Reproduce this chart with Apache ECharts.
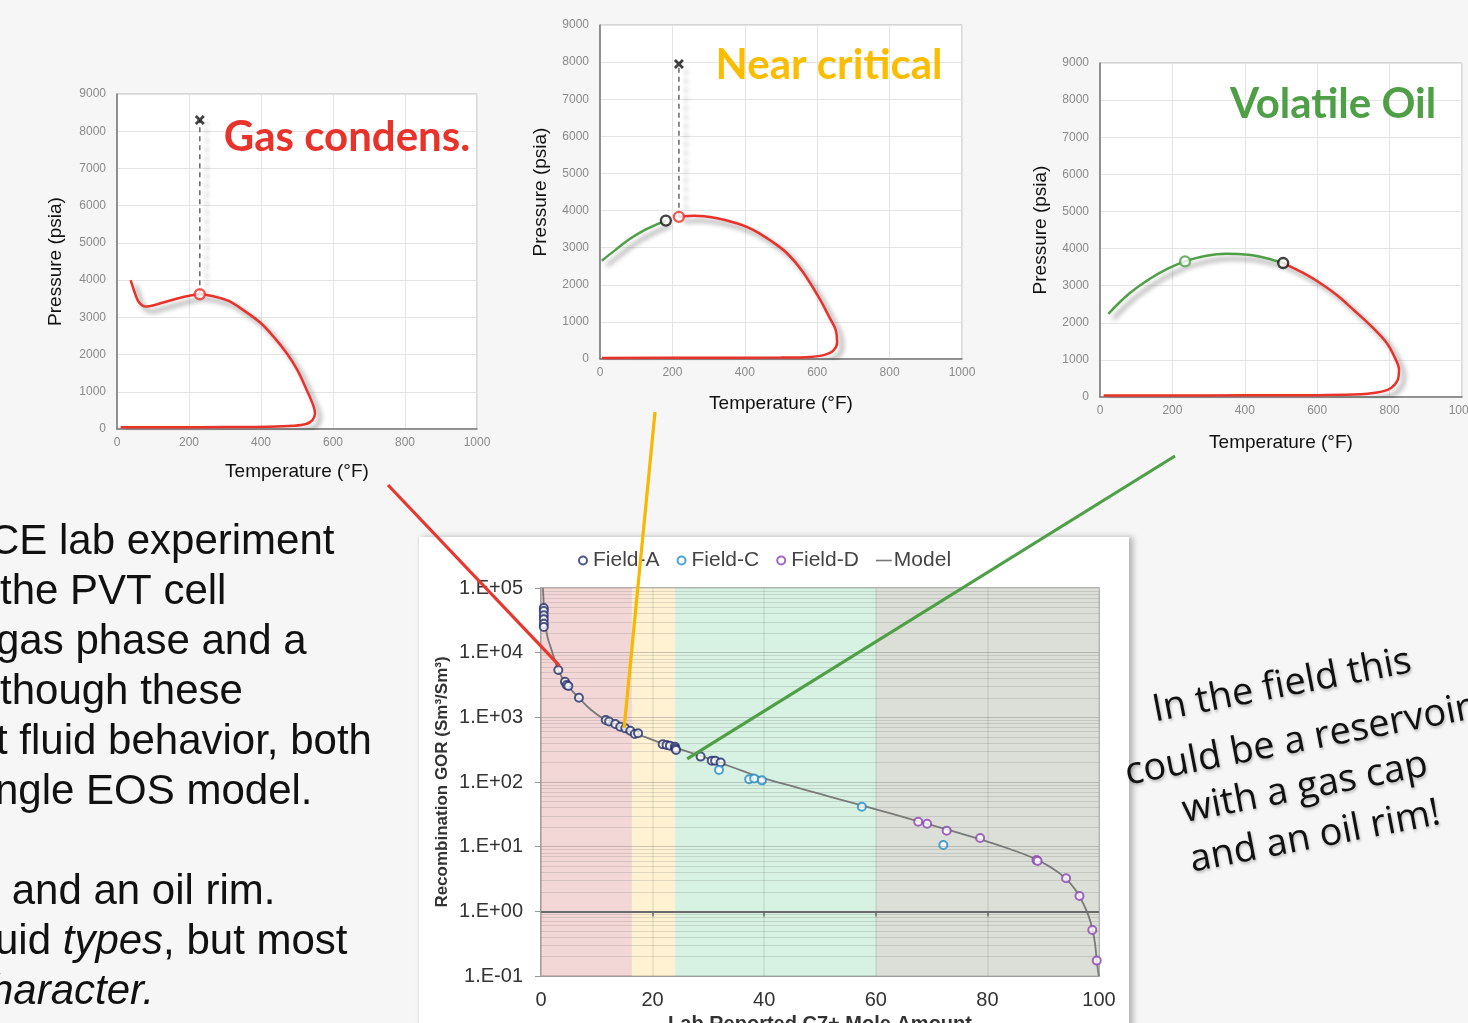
<!DOCTYPE html>
<html>
<head>
<meta charset="utf-8">
<script src="https://cdn.jsdelivr.net/npm/echarts@6/dist/echarts.min.js"></script>
<style>
  html, body { margin: 0; padding: 0; background: #f6f6f6; width: 1468px; height: 1023px; overflow: hidden; }
  #panel { position: absolute; left: 418px; top: 537px; width: 710px; height: 520px; background: #fff;
           border-left: 1px solid #e2e2e2; box-shadow: 4px 0 6px rgba(0,0,0,0.28); }
  #chart { position: absolute; left: 0; top: 0; width: 1468px; height: 1023px; }
</style>
</head>
<body>
<div id="panel"></div>
<div id="chart"></div>
<script>
// ---------- Phase envelopes: [temperature °F, pressure psia] ----------
// Gas condensate
const gcDewCurve = [[38,4000],[48,3700],[58,3450],[70,3320],[82,3290],[100,3320],[150,3460],[190,3560],[230,3620],
  [270,3560],[310,3440],[350,3200],[400,2840],[440,2420],[471,2040],[500,1600],[527,1050],[545,640],[550,420],
  [543,240],[525,135],[490,88],[420,62],[300,52],[150,47],[10,45]];
const gcSatPoint = [230, 3620];
const gcInitial = [230, 8300];

// Near-critical fluid
const ncBubbleCurve = [[5,2650],[40,2920],[80,3220],[120,3460],[160,3640],[182,3730]];
const ncDewCurve = [[218,3830],[260,3860],[320,3800],[380,3650],[423,3480],[470,3200],[516,2856],[560,2350],
  [608,1600],[635,1100],[651,790],[655,450],[645,230],[620,110],[580,55],[500,38],[300,32],[5,30]];
const ncCritical = [182, 3730];
const ncSatPoint = [218, 3830];
const ncInitial = [218, 7950];

// Volatile oil
const voBubbleCurve = [[23,2240],[80,2780],[140,3200],[190,3470],[235,3654],[290,3800],[350,3860],[410,3830],[460,3740],[506,3610]];
const voDewCurve = [[506,3610],[560,3350],[608,3072],[655,2740],[700,2350],[750,1900],[792,1455],[815,1050],
  [826,736],[822,450],[805,250],[781,151],[740,90],[700,65],[600,50],[400,45],[200,40],[10,40]];
const voSatPoint = [235, 3654];
const voCritical = [506, 3610];

// ---------- Recombination GOR vs C7+ mole amount: [C7+ %, GOR Sm3/Sm3] ----------
const fieldA = [[0.5,49000],[0.5,44000],[0.5,38000],[0.5,33000],[0.5,28000],[0.5,25000],[3.1,5400],[4.3,3560],
  [4.6,3160],[4.9,3050],[6.8,2010],[11.6,910],[12.2,860],[13.3,790],[14.2,716],[15.1,675],[16.0,621],[16.8,553],
  [17.4,566],[21.8,383],[22.5,374],[23.1,365],[24.0,352],[24.1,330],[24.2,313],[28.6,247],[30.6,214],[31.2,214],[32.2,200]];
const fieldC = [[31.9,153],[37.3,110],[38.2,113],[39.6,106],[57.5,41.5],[72.1,10.6]];
const fieldD = [[67.6,24.3],[69.2,22.6],[72.7,17.7],[78.7,13.6],[88.8,6.2],[89.0,6.0],[94.1,3.24],[96.5,1.73],[98.8,0.515],[99.6,0.173]];
const modelC7 = [0.35,0.6,0.85,1.2,1.7,2.4,3.1,4.5,6.8,9,11.6,14,16,17.7,20,22,24,28,32,36,40,45,50,55,60,65,70,75,80,84,88,91,94,96,97.5,98.5,99.2,99.6,99.95];
const modelGor = [100000,41000,25000,17000,12400,8000,5400,3300,2000,1300,910,720,600,533,447,390,343,263,200,150,113.5,86,65.3,49.8,37.8,28.7,21.6,16.2,12.0,9.2,6.8,5.0,3.24,2.0,1.15,0.68,0.355,0.174,0.1];

// Fluid-type regions along the C7+ axis
const regionNames = ['Gas condensate', 'Near critical', 'Volatile oil', 'Black oil'];
const regionBounds = [0, 16.3, 24, 60, 100];
const regionColors = ['rgba(236,190,190,0.62)', 'rgba(253,236,190,0.68)', 'rgba(196,236,212,0.68)', 'rgba(210,214,204,0.78)'];

// Where each envelope panel points on the GOR chart
const linkGasCondensate = [3.3, 6300];
const linkNearCritical = [14.9, 690];
const linkVolatileOil = [26.2, 227];

const FONT = '"Liberation Sans", Arial, sans-serif';
const RED = '#e8322a', GREEN = '#4f9f47', GOLD = '#fbbd00';
const curveShadow = { shadowColor: 'rgba(0,0,0,0.45)', shadowBlur: 5, shadowOffsetX: 5, shadowOffsetY: 5 };
const dashShadow = { shadowColor: 'rgba(0,0,0,0.35)', shadowBlur: 4, shadowOffsetX: 7, shadowOffsetY: 2 };
const crossSymbol = 'path://M2,0 L5,3 L8,0 L10,2 L7,5 L10,8 L8,10 L5,7 L2,10 L0,8 L3,5 L0,2 Z';
const plainNumber = v => String(v);

function tempAxis(i, gap) {
  return {
    gridIndex: i, type: 'value', min: 0, max: 1000, interval: 200,
    name: 'Temperature (°F)', nameLocation: 'middle', nameGap: gap,
    nameTextStyle: { fontSize: 19, color: '#111', fontFamily: FONT },
    axisLine: { show: true, lineStyle: { color: '#777', width: 1.5 } },
    axisTick: { show: false },
    axisLabel: { fontSize: 12, color: '#8a8a8a', margin: 8, fontFamily: FONT, formatter: plainNumber },
    splitLine: { show: true, lineStyle: { color: '#e4e4e4' } }
  };
}
function presAxis(i, gap) {
  return {
    gridIndex: i, type: 'value', min: 0, max: 9000, interval: 1000,
    name: 'Pressure (psia)', nameLocation: 'middle', nameGap: gap, nameRotate: 90,
    nameTextStyle: { fontSize: 19, color: '#111', fontFamily: FONT },
    axisLine: { show: true, lineStyle: { color: '#777', width: 1.5 } },
    axisTick: { show: false },
    axisLabel: { fontSize: 12, color: '#8a8a8a', margin: 11, fontFamily: FONT, formatter: plainNumber },
    splitLine: { show: true, lineStyle: { color: '#e4e4e4' } }
  };
}
function curve(i, data, color) {
  return { type: 'line', xAxisIndex: i, yAxisIndex: i, data: data, smooth: 0.35, symbol: 'none', silent: true, z: 3,
           lineStyle: Object.assign({ color: color, width: 2.5 }, curveShadow) };
}
function dashed(i, a, b) {
  return { type: 'line', xAxisIndex: i, yAxisIndex: i, data: [a, b], symbol: 'none', silent: true, z: 2,
           lineStyle: Object.assign({ color: '#666', width: 1.5, type: [5, 4] }, dashShadow) };
}
function ring(i, p, color) {
  return { type: 'scatter', xAxisIndex: i, yAxisIndex: i, data: [p], symbol: 'circle', symbolSize: 10, silent: true, z: 5,
           itemStyle: { color: '#fff', borderColor: color, borderWidth: 2.4 } };
}
function cross(i, p) {
  return { type: 'scatter', xAxisIndex: i, yAxisIndex: i, data: [p], symbol: crossSymbol, symbolSize: 10, silent: true, z: 5,
           itemStyle: { color: '#111' } };
}
function plotGrid(left, top, width, height, bg, border) {
  return { left: left, top: top, width: width, height: height, show: true, backgroundColor: bg,
           borderColor: border, borderWidth: border === '#999' ? 1.5 : 1, containLabel: false, outerBoundsMode: 'none' };
}

// GOR-chart gridlines (log decades and their 2..9 subdivisions)
const decades = [1e-1, 1, 10, 100, 1000, 10000, 100000];
const minorLevels = [];
for (let d = 0; d < decades.length - 1; d++) for (let k = 2; k <= 9; k++) minorLevels.push(+(k * decades[d]).toPrecision(3));

const lineNone = { symbol: ['none', 'none'], silent: true, label: { show: false } };

function gorLabel(v) {
  const e = Math.round(Math.log10(v));
  return '1.E' + (e < 0 ? '-' : '+') + String(Math.abs(e)).padStart(2, '0');
}

const option = {
  animation: false,
  textStyle: { fontFamily: FONT },
  grid: [
    plotGrid(117, 94, 360, 335, '#fff', '#b4b4b4'),
    plotGrid(600, 25, 362, 334, '#fff', '#b4b4b4'),
    plotGrid(1100, 63, 362, 334, '#fff', '#b4b4b4'),
    plotGrid(541, 588, 558, 388, 'transparent', '#999')
  ],
  xAxis: [
    tempAxis(0, 33), tempAxis(1, 35), tempAxis(2, 36),
    {
      gridIndex: 3, type: 'value', min: 0, max: 100, interval: 20,
      name: 'Lab Reported C7+ Mole Amount', nameLocation: 'middle', nameGap: 38,
      nameTextStyle: { fontSize: 20, fontWeight: 'bold', color: '#333', fontFamily: FONT },
      axisLine: { show: true, lineStyle: { color: '#999', width: 1.5 } },
      axisTick: { show: false },
      axisLabel: { fontSize: 20, color: '#333', margin: 14, fontFamily: FONT },
      splitLine: { show: false }
    }
  ],
  yAxis: [
    presAxis(0, 52), presAxis(1, 50), presAxis(2, 50),
    {
      gridIndex: 3, type: 'log', logBase: 10, min: 0.1, max: 100000, splitNumber: 6,
      name: 'Recombination GOR (Sm³/Sm³)', nameLocation: 'middle', nameGap: 90, nameRotate: 90,
      nameTextStyle: { fontSize: 17, fontWeight: 'bold', color: '#333', fontFamily: FONT },
      axisLine: { show: true, lineStyle: { color: '#999', width: 1.5 } },
      axisTick: { show: true, length: 6, lineStyle: { color: '#999' } },
      axisLabel: { formatter: gorLabel, fontSize: 20, color: '#333', margin: 18, fontFamily: FONT },
      splitLine: { show: false }
    }
  ],
  legend: {
    data: ['Field-A', 'Field-C', 'Field-D',
           { name: 'Model', icon: 'path://M0,0 L16,0 L16,1.6 L0,1.6 Z' }],
    left: 573, top: 545, itemWidth: 16, itemHeight: 8, itemGap: 17,
    textStyle: { fontSize: 21, color: '#444', fontFamily: FONT, padding: [0, 0, 0, -3] }
  },
  series: [
    // Gas condensate envelope
    curve(0, gcDewCurve, RED), dashed(0, gcSatPoint, gcInitial), ring(0, gcSatPoint, RED), cross(0, gcInitial),
    // Near-critical envelope
    curve(1, ncBubbleCurve, GREEN), curve(1, ncDewCurve, RED), dashed(1, ncSatPoint, ncInitial),
    ring(1, ncCritical, '#111'), ring(1, ncSatPoint, RED), cross(1, ncInitial),
    // Volatile oil envelope
    curve(2, voBubbleCurve, GREEN), curve(2, voDewCurve, RED), ring(2, voSatPoint, GREEN), ring(2, voCritical, '#111'),
    // GOR chart: fluid-type bands
    {
      type: 'line', name: 'regions', xAxisIndex: 3, yAxisIndex: 3, data: [], silent: true, z: 1,
      markArea: {
        silent: true,
        data: regionNames.map((n, i) => [
          { name: n, xAxis: regionBounds[i], itemStyle: { color: regionColors[i] } },
          { xAxis: regionBounds[i + 1] }
        ]),
        label: { show: false }
      }
    },
    // GOR chart: gridlines, unit-GOR axis line and its ticks
    {
      type: 'line', name: 'grid', xAxisIndex: 3, yAxisIndex: 3, data: [], silent: true, z: 2,
      markLine: Object.assign({}, lineNone, {
        data: [].concat(
          minorLevels.map(v => ({ yAxis: v, lineStyle: { color: 'rgba(110,110,110,0.22)', width: 1, type: 'solid' } })),
          [10, 100, 1000, 10000].map(v => ({ yAxis: v, lineStyle: { color: 'rgba(110,110,110,0.35)', width: 1, type: 'solid' } })),
          [20, 40, 60, 80].map(v => ({ xAxis: v, lineStyle: { color: 'rgba(90,110,90,0.16)', width: 1.5, type: 'solid' } })),
          [{ yAxis: 1, lineStyle: { color: '#6a6a6a', width: 2, type: 'solid' } }],
          [20, 40, 60, 80].map(v => [{ coord: [v, 1], lineStyle: { color: '#6a6a6a', width: 1.5, type: 'solid' } }, { coord: [v, 0.83] }])
        )
      })
    },
    {
      type: 'line', name: 'Model', xAxisIndex: 3, yAxisIndex: 3, z: 3, silent: true,
      data: modelC7.map((c, i) => [c, modelGor[i]]),
      smooth: 0.5, symbol: 'none',
      itemStyle: { color: '#777' },
      lineStyle: { color: '#7a7a7a', width: 1.8 }
    },
    {
      type: 'scatter', name: 'Field-A', xAxisIndex: 3, yAxisIndex: 3, z: 4, data: fieldA,
      symbol: 'emptyCircle', symbolSize: 8, itemStyle: { color: '#1f2c6a', borderWidth: 2 }
    },
    {
      type: 'scatter', name: 'Field-C', xAxisIndex: 3, yAxisIndex: 3, z: 4, data: fieldC,
      symbol: 'emptyCircle', symbolSize: 8, itemStyle: { color: '#1f8ccb', borderWidth: 2 }
    },
    {
      type: 'scatter', name: 'Field-D', xAxisIndex: 3, yAxisIndex: 3, z: 4, data: fieldD,
      symbol: 'emptyCircle', symbolSize: 8, itemStyle: { color: '#8a42b6', borderWidth: 2 }
    }
  ]
};

const chart = echarts.init(document.getElementById('chart'), null, { renderer: 'canvas' });
chart.setOption(option);

// Annotations: fluid-type titles, slide text, note, connectors
const bodyFont = '42px ' + FONT;
const bodyLines = [
  { text: 'CE lab experiment', x: -11 },
  { text: 'the PVT cell', x: 0 },
  { text: 'gas phase and a', x: -4 },
  { text: 'though these', x: 0 },
  { text: 't fluid behavior, both', x: -4 },
  { text: 'ngle EOS model.', x: -5 },
  null,
  { text: ' and an oil rim.', x: 0 },
  { rich: true, x: -5 },
  { italic: 'haracter.', x: -10 }
];
const noteLines = [
  { text: 'In the field this', x: 1282, y: 686 },
  { text: 'could be a reservoir', x: 1298, y: 741 },
  { text: 'with a gas cap', x: 1305, y: 788 },
  { text: 'and an oil rim!', x: 1315, y: 837 }
];

const graphics = [];
[['Gas condens.', 347, 137, RED], ['Near critical', 829, 65, GOLD], ['Volatile Oil', 1333, 104, GREEN]].forEach(t => {
  graphics.push({ type: 'text', x: t[1], y: t[2], z: 50,
    style: { text: t[0], font: 'bold 42px Lato, "Open Sans", sans-serif', fill: t[3], textAlign: 'center', textVerticalAlign: 'middle' } });
});
bodyLines.forEach((l, i) => {
  if (!l) return;
  const y = 542 + 50 * i;
  if (l.rich) {
    graphics.push({ type: 'text', x: l.x, y: y, z: 50, style: {
      text: '{n|uid }{i|types}{n|, but most}', textVerticalAlign: 'middle', fill: '#111',
      rich: { n: { font: bodyFont, fill: '#111' }, i: { font: 'italic ' + bodyFont, fill: '#111' } } } });
  } else if (l.italic) {
    graphics.push({ type: 'text', x: l.x, y: y, z: 50, style: { text: l.italic, font: 'italic ' + bodyFont, fill: '#111', textVerticalAlign: 'middle' } });
  } else {
    graphics.push({ type: 'text', x: l.x, y: y, z: 50, style: { text: l.text, font: bodyFont, fill: '#111', textVerticalAlign: 'middle' } });
  }
});
noteLines.forEach(l => {
  graphics.push({ type: 'text', x: l.x, y: l.y, rotation: 0.19, z: 50, style: {
    text: l.text, font: '38px "Open Sans", sans-serif', fill: '#111', textAlign: 'center', textVerticalAlign: 'middle',
    textShadowColor: 'rgba(0,0,0,0.25)', textShadowBlur: 3, textShadowOffsetX: 1, textShadowOffsetY: 2 } });
});

const links = [
  [[388, 485], linkGasCondensate, '#e8382e'],
  [[655, 412], linkNearCritical, '#f6b800'],
  [[1175, 456], linkVolatileOil, '#4f9f47']
];
links.forEach(k => {
  const end = chart.convertToPixel({ gridIndex: 3 }, k[1]);
  graphics.push({ type: 'line', z: 60, silent: true,
    shape: { x1: k[0][0], y1: k[0][1], x2: end[0], y2: end[1] },
    style: { stroke: k[2], lineWidth: 3.2 } });
});

chart.setOption({ graphic: graphics });
</script>
</body>
</html>
